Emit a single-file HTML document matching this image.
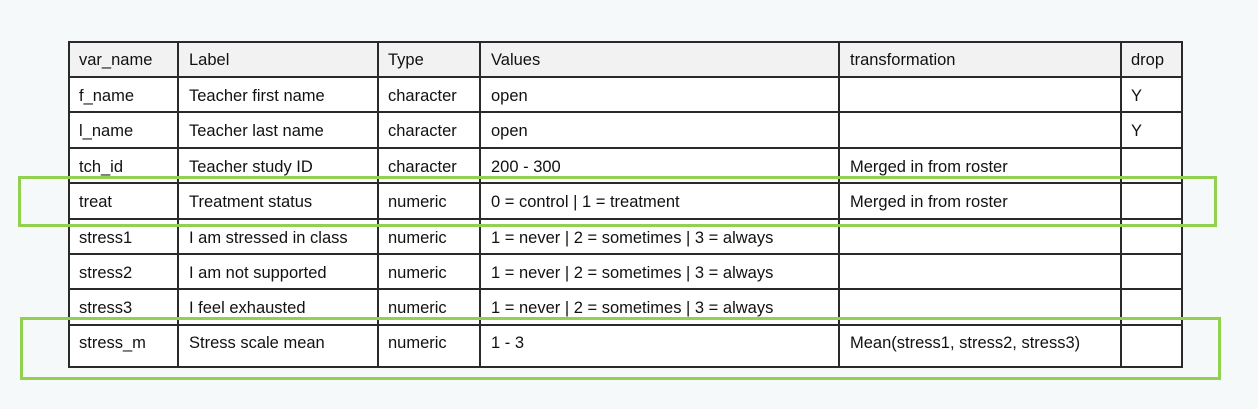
<!DOCTYPE html>
<html><head><style>
body{margin:0;width:1258px;height:409px;background:#f6f9fa;position:relative;overflow:hidden;font-family:"Liberation Sans",sans-serif;}
.c{position:absolute;font-size:16.5px;color:#111;white-space:nowrap;line-height:20px;margin-top:1px;}
.h{position:absolute;height:2px;background:#2a2a2a;}
.v{position:absolute;width:2px;background:#2a2a2a;}
.g{position:absolute;border:3px solid #92d050;box-sizing:border-box;}
</style></head><body>
<div style="position:absolute;left:68px;top:41px;width:1115px;height:326px;background:#fff"></div>
<div style="position:absolute;left:68px;top:41px;width:1115px;height:36px;background:#f2f2f2"></div>
<div class="h" style="left:68px;width:1115px;top:41px"></div>
<div class="h" style="left:68px;width:1115px;top:76px"></div>
<div class="h" style="left:68px;width:1115px;top:111px"></div>
<div class="h" style="left:68px;width:1115px;top:147px"></div>
<div class="h" style="left:68px;width:1115px;top:182px"></div>
<div class="h" style="left:68px;width:1115px;top:218px"></div>
<div class="h" style="left:68px;width:1115px;top:253px"></div>
<div class="h" style="left:68px;width:1115px;top:288px"></div>
<div class="h" style="left:68px;width:1115px;top:324px"></div>
<div class="h" style="left:68px;width:1115px;top:366px"></div>
<div class="v" style="left:68px;top:41px;height:327px"></div>
<div class="v" style="left:177px;top:41px;height:327px"></div>
<div class="v" style="left:377px;top:41px;height:327px"></div>
<div class="v" style="left:479px;top:41px;height:327px"></div>
<div class="v" style="left:838px;top:41px;height:327px"></div>
<div class="v" style="left:1120px;top:41px;height:327px"></div>
<div class="v" style="left:1181px;top:41px;height:327px"></div>

<div class="c" style="left:79px;top:49px">var_name</div><div class="c" style="left:189px;top:49px">Label</div><div class="c" style="left:388px;top:49px">Type</div><div class="c" style="left:491px;top:49px">Values</div><div class="c" style="left:850px;top:49px">transformation</div><div class="c" style="left:1131px;top:49px">drop</div>

<div class="c" style="left:79px;top:85px">f_name</div><div class="c" style="left:189px;top:85px">Teacher first name</div><div class="c" style="left:388px;top:85px">character</div><div class="c" style="left:491px;top:85px">open</div><div class="c" style="left:1131px;top:85px">Y</div>

<div class="c" style="left:79px;top:120px">l_name</div><div class="c" style="left:189px;top:120px">Teacher last name</div><div class="c" style="left:388px;top:120px">character</div><div class="c" style="left:491px;top:120px">open</div><div class="c" style="left:1131px;top:120px">Y</div>

<div class="c" style="left:79px;top:156px">tch_id</div><div class="c" style="left:189px;top:156px">Teacher study ID</div><div class="c" style="left:388px;top:156px">character</div><div class="c" style="left:491px;top:156px">200 - 300</div><div class="c" style="left:850px;top:156px">Merged in from roster</div>

<div class="c" style="left:79px;top:191px">treat</div><div class="c" style="left:189px;top:191px">Treatment status</div><div class="c" style="left:388px;top:191px">numeric</div><div class="c" style="left:491px;top:191px">0 = control | 1 = treatment</div><div class="c" style="left:850px;top:191px">Merged in from roster</div>

<div class="c" style="left:79px;top:227px">stress1</div><div class="c" style="left:189px;top:227px">I am stressed in class</div><div class="c" style="left:388px;top:227px">numeric</div><div class="c" style="left:491px;top:227px">1 = never | 2 = sometimes | 3 = always</div>

<div class="c" style="left:79px;top:262px">stress2</div><div class="c" style="left:189px;top:262px">I am not supported</div><div class="c" style="left:388px;top:262px">numeric</div><div class="c" style="left:491px;top:262px">1 = never | 2 = sometimes | 3 = always</div>

<div class="c" style="left:79px;top:297px">stress3</div><div class="c" style="left:189px;top:297px">I feel exhausted</div><div class="c" style="left:388px;top:297px">numeric</div><div class="c" style="left:491px;top:297px">1 = never | 2 = sometimes | 3 = always</div>

<div class="c" style="left:79px;top:332px">stress_m</div><div class="c" style="left:189px;top:332px">Stress scale mean</div><div class="c" style="left:388px;top:332px">numeric</div><div class="c" style="left:491px;top:332px">1 - 3</div><div class="c" style="left:850px;top:332px">Mean(stress1, stress2, stress3)</div>

<div class="g" style="left:18px;top:176px;width:1199px;height:51px"></div>
<div class="g" style="left:20px;top:317px;width:1201px;height:63px"></div>
</body></html>
